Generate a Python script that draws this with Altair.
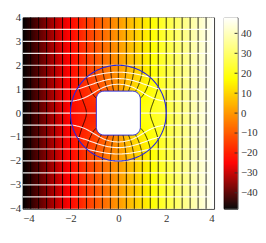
import numpy as np
import pandas as pd
import altair as alt

# ---- values ----
X_TICKS = [-4, -2, 0, 2, 4]
Y_TICKS = [-4, -3, -2, -1, 0, 1, 2, 3, 4]
CBAR_TICKS = [-40, -30, -20, -10, 0, 10, 20, 30, 40]
DOMAIN = [-4, 4]
PHI_LIMITS = [-48, 48]
CMAP_STOPS = [-48, -25, 17, 48]
CMAP_COLORS = ["#000000", "#ff0000", "#ffff00", "#ffffff"]
FIELD_GRADIENT = 12.0          # potential per unit x far from obstacle
POT_LEVELS = list(range(-44, 45, 4))   # equipotential contour values
STREAM_Y0 = [-3.5, -3.0, -2.5, -2.0, -1.5, -1.0, -0.5, 0.0,
             0.5, 1.0, 1.5, 2.0, 2.5, 3.0, 3.5]
OUTER_RADIUS = 2.0             # blue circle
CORE_RADIUS = 1.0              # equivalent obstacle radius
OBSTACLE_HALF = 0.92           # half side of rounded square
OBSTACLE_CORNER_PX = 8

U = FIELD_GRADIENT
a = CORE_RADIUS
b = OUTER_RADIUS
A = U * b * b / (b * b + a * a)


def phi(x, y):
    r2 = x * x + y * y
    inside = r2 < b * b
    return np.where(inside, A * x * (1 + a * a / np.maximum(r2, 1e-9)), U * x)


step = 1.0 / 12
# ---- background strips (field uniform outside circle) ----
n = int(round((DOMAIN[1] - DOMAIN[0]) / step))
xc = DOMAIN[0] + step * (np.arange(n) + 0.5)
strips = pd.DataFrame({
    "x0": xc - step / 2, "x1": xc + step / 2 + 0.5 * step,
    "y0": DOMAIN[0], "y1": DOMAIN[1], "phi": U * xc})

# ---- cells inside circle ----
gc = np.arange(-2.2 + step / 2, 2.2, step)
GX, GY = np.meshgrid(gc, gc)
GX = GX.ravel(); GY = GY.ravel()
m = np.hypot(GX, GY) < b + step
GX = GX[m]; GY = GY[m]
cells = pd.DataFrame({
    "x0": GX - step / 2, "x1": GX + step / 2 + 0.5 * step,
    "y0": GY - step / 2, "y1": GY + step / 2 + 0.5 * step,
    "phi": phi(GX, GY)})

# ---- equipotential lines ----
rule_rows = []
eq_rows = []
for c in POT_LEVELS:
    xv = c / U
    if abs(xv) >= b - 1e-9:
        rule_rows.append({"x": xv, "y0": DOMAIN[0], "y1": DOMAIN[1]})
        continue
    h = np.sqrt(b * b - xv * xv)
    rule_rows.append({"x": xv, "y0": h, "y1": DOMAIN[1]})
    rule_rows.append({"x": xv, "y0": DOMAIN[0], "y1": -h})
    k = abs(c) / A
    if k < 2 * a:
        r = np.linspace(b, 0.85, 70)
        ct = np.clip(c / (A * (r + a * a / r)), -1, 1)
        th = np.arccos(ct)
        for sgn, nm in [(1, "u"), (-1, "d")]:
            for i in range(len(r)):
                eq_rows.append({"x": r[i] * np.cos(th[i]), "y": sgn * r[i] * np.sin(th[i]),
                                "id": f"{c}{nm}", "o": i})
    else:
        rp = (k + np.sqrt(k * k - 4 * a * a)) / 2
        t = np.linspace(0, 1, 50)
        r = rp + (b - rp) * t ** 2
        ct = np.clip(c / (A * (r + a * a / r)), -1, 1)
        th = np.arccos(ct)
        pts = [(r[i] * np.cos(th[i]), r[i] * np.sin(th[i])) for i in range(len(r) - 1, -1, -1)]
        pts += [(r[i] * np.cos(th[i]), -r[i] * np.sin(th[i])) for i in range(1, len(r))]
        for i, (px, py) in enumerate(pts):
            eq_rows.append({"x": px, "y": py, "id": f"{c}w", "o": i})
eq_rules = pd.DataFrame(rule_rows)
eq_lines = pd.DataFrame(eq_rows)

# ---- streamlines ----
srule_rows = []
st_rows = []
for y0 in STREAM_Y0:
    if abs(y0) >= b - 1e-9:
        srule_rows.append({"y": y0, "x0": DOMAIN[0], "x1": DOMAIN[1]})
        continue
    w = np.sqrt(b * b - y0 * y0)
    srule_rows.append({"y": y0, "x0": DOMAIN[0], "x1": -w})
    srule_rows.append({"y": y0, "x0": w, "x1": DOMAIN[1]})
    s = U * y0 * (b * b - a * a) / (b * b + a * a)
    if y0 == 0:
        for nm, xs_ in [("l", np.linspace(-b, -0.85, 10)), ("r", np.linspace(0.85, b, 10))]:
            for i, px in enumerate(xs_):
                st_rows.append({"x": px, "y": 0.0, "id": f"0{nm}", "o": i})
        continue
    k = abs(s) / A
    rmin = (k + np.sqrt(k * k + 4 * a * a)) / 2
    t = np.linspace(0, 1, 50)
    r = rmin + (b - rmin) * t ** 2
    st = np.clip(k / (r - a * a / r), -1, 1)
    th = np.arcsin(st)
    sg = 1 if y0 > 0 else -1
    pts = [(-r[i] * np.cos(th[i]), sg * r[i] * np.sin(th[i])) for i in range(len(r) - 1, -1, -1)]
    pts += [(r[i] * np.cos(th[i]), sg * r[i] * np.sin(th[i])) for i in range(1, len(r))]
    for i, (px, py) in enumerate(pts):
        st_rows.append({"x": px, "y": py, "id": f"s{y0}", "o": i})
st_rules = pd.DataFrame(srule_rows)
st_lines = pd.DataFrame(st_rows)

# ---- circle & obstacle ----
tt = np.linspace(0, 2 * np.pi, 181)
circle = pd.DataFrame({"x": b * np.cos(tt), "y": b * np.sin(tt), "o": np.arange(len(tt))})
obstacle = pd.DataFrame({"x0": [-OBSTACLE_HALF], "x1": [OBSTACLE_HALF],
                         "y0": [-OBSTACLE_HALF], "y1": [OBSTACLE_HALF]})

xs = alt.Scale(domain=DOMAIN, nice=False, zero=False)
ys = alt.Scale(domain=DOMAIN, nice=False, zero=False)
xaxis = alt.Axis(values=X_TICKS, title=None, grid=False, domain=False, ticks=False, labelPadding=4)
yaxis = alt.Axis(values=Y_TICKS, title=None, grid=False, domain=False, ticks=False, labelPadding=2)
cscale = alt.Scale(domain=CMAP_STOPS, range=CMAP_COLORS, interpolate="rgb", clamp=True)


def X(f):
    return alt.X(f, scale=xs, axis=xaxis)


def Y(f):
    return alt.Y(f, scale=ys, axis=yaxis)


l_strips = alt.Chart(strips).mark_rect(clip=True).encode(
    x=X("x0:Q"), x2="x1:Q", y=Y("y0:Q"), y2="y1:Q",
    color=alt.Color("phi:Q", scale=cscale, legend=None))
l_cells = alt.Chart(cells).mark_rect(clip=True).encode(
    x=X("x0:Q"), x2="x1:Q", y=Y("y0:Q"), y2="y1:Q",
    color=alt.Color("phi:Q", scale=cscale, legend=None))
l_eqr = alt.Chart(eq_rules).mark_rule(color="black", strokeWidth=1, opacity=0.85).encode(
    x=X("x:Q"), y=Y("y0:Q"), y2="y1:Q")
l_eql = alt.Chart(eq_lines).mark_line(color="black", strokeWidth=1, opacity=0.85).encode(
    x=X("x:Q"), y=Y("y:Q"), detail="id:N", order="o:Q")
l_str = alt.Chart(st_rules).mark_rule(color="white", strokeWidth=1.2, opacity=0.9, clip=True).encode(
    y=Y("y:Q"), x=X("x0:Q"), x2="x1:Q")
l_stl = alt.Chart(st_lines).mark_line(color="white", strokeWidth=1.1, opacity=0.9).encode(
    x=X("x:Q"), y=Y("y:Q"), detail="id:N", order="o:Q")
l_obs = alt.Chart(obstacle).mark_rect(fill="white", stroke="#2a2ad8", strokeWidth=1,
                                     cornerRadius=OBSTACLE_CORNER_PX).encode(
    x=X("x0:Q"), x2="x1:Q", y=Y("y0:Q"), y2="y1:Q")
l_circ = alt.Chart(circle).mark_line(color="#2424e0", strokeWidth=1.1).encode(
    x=X("x:Q"), y=Y("y:Q"), order="o:Q")

main = alt.layer(l_strips, l_cells, l_eqr, l_eql, l_str, l_stl, l_obs, l_circ).properties(
    width=196, height=196)

# ---- colorbar ----
cb_v = np.arange(PHI_LIMITS[0], PHI_LIMITS[1], 0.5)
cbar_df = pd.DataFrame({"v0": cb_v, "v1": np.minimum(cb_v + 0.8, PHI_LIMITS[1]), "phi": cb_v + 0.25})
cb_scale = alt.Scale(domain=PHI_LIMITS, nice=False, zero=False)
cb_axis = alt.Axis(values=CBAR_TICKS, orient="right", title=None, grid=False, domain=False,
                   ticks=False, labelPadding=3)
cb_rect = alt.Chart(cbar_df).mark_rect().encode(
    y=alt.Y("v0:Q", scale=cb_scale, axis=cb_axis), y2="v1:Q",
    x=alt.value(0), x2=alt.value(14),
    color=alt.Color("phi:Q", scale=cscale, legend=None))
cb_ticks = alt.Chart(pd.DataFrame({"t": CBAR_TICKS})).mark_rule(color="#333", strokeWidth=1).encode(
    y=alt.Y("t:Q", scale=cb_scale, axis=cb_axis), x=alt.value(11), x2=alt.value(14))
cbar = alt.layer(cb_rect, cb_ticks).properties(width=14, height=196)

chart = alt.hconcat(main, cbar, spacing=8).properties(
    padding={"left": 0, "top": 0, "right": 0, "bottom": 0}
).configure_view(
    stroke="#333", strokeWidth=1
).configure_axis(
    labelFont="Liberation Serif", labelFontSize=11, labelColor="#333"
)

chart.save("out.html", embed_options={"renderer": "svg", "actions": False})
